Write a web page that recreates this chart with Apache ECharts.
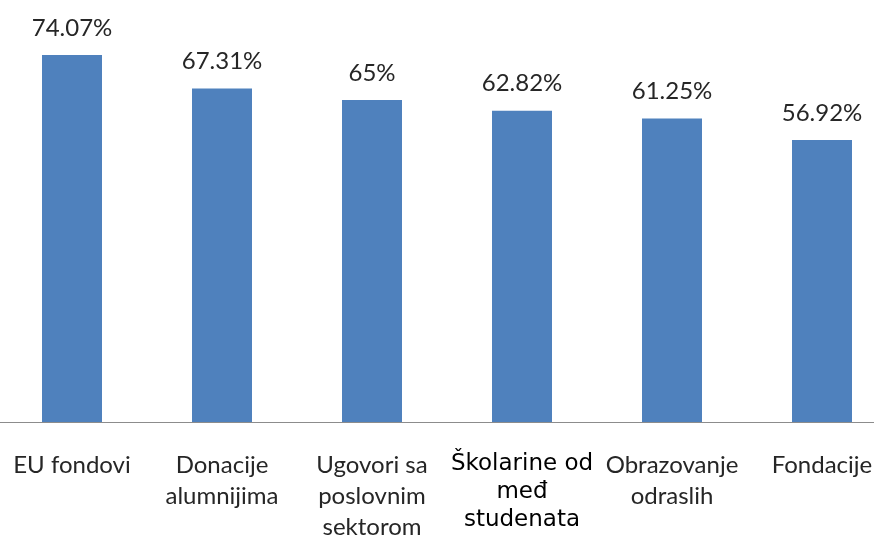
<!DOCTYPE html>
<html><head><meta charset="utf-8">
<script src="https://cdn.jsdelivr.net/npm/echarts@6/dist/echarts.min.js"></script>
<style>html,body{margin:0;padding:0;background:#fff}#c{width:874px;height:536px}</style>
</head><body><div id="c"></div>
<script>
var categories = ['EU fondovi', 'Donacije\nalumnijima', 'Ugovori sa\nposlovnim\nsektorom', 'Školarine od\nmeđ\nstudenata', 'Obrazovanje\nodraslih', 'Fondacije'];
var values = [74.07, 67.31, 65, 62.82, 61.25, 56.92];
var highlightIndex = 3;

var chart = echarts.init(document.getElementById('c'), null, {renderer: 'canvas'});
chart.setOption({
  animation: false,
  backgroundColor: '#fff',
  grid: {left: -3, width: 900, top: 25.6, height: 396.4, containLabel: false, outerBoundsMode: 'none'},
  xAxis: {
    type: 'category', data: categories,
    axisLine: {lineStyle: {color: '#8c8c8c', width: 1}},
    axisTick: {show: false},
    axisLabel: {
      interval: 0, margin: 28, hideOverlap: false,
      formatter: function (v, i) { return i === highlightIndex ? '{h|' + v.split('\n').join('}\n{h|') + '}' : v; },
      color: '#262626', fontFamily: 'Lato', fontSize: 24, lineHeight: 31,
      rich: {h: {color: '#000', fontFamily: 'DejaVu Sans', fontSize: 23, lineHeight: 28}}
    }
  },
  yAxis: {type: 'value', min: 0, max: 80, show: false, splitLine: {show: false}},
  series: [{
    type: 'bar', data: values, barWidth: 60,
    itemStyle: {color: '#4F81BD'},
    label: {
      show: true, position: 'top', distance: 15,
      formatter: function (p) { return p.value + '%'; },
      color: '#262626', fontFamily: 'Lato', fontSize: 24
    }
  }]
});
</script></body></html>
